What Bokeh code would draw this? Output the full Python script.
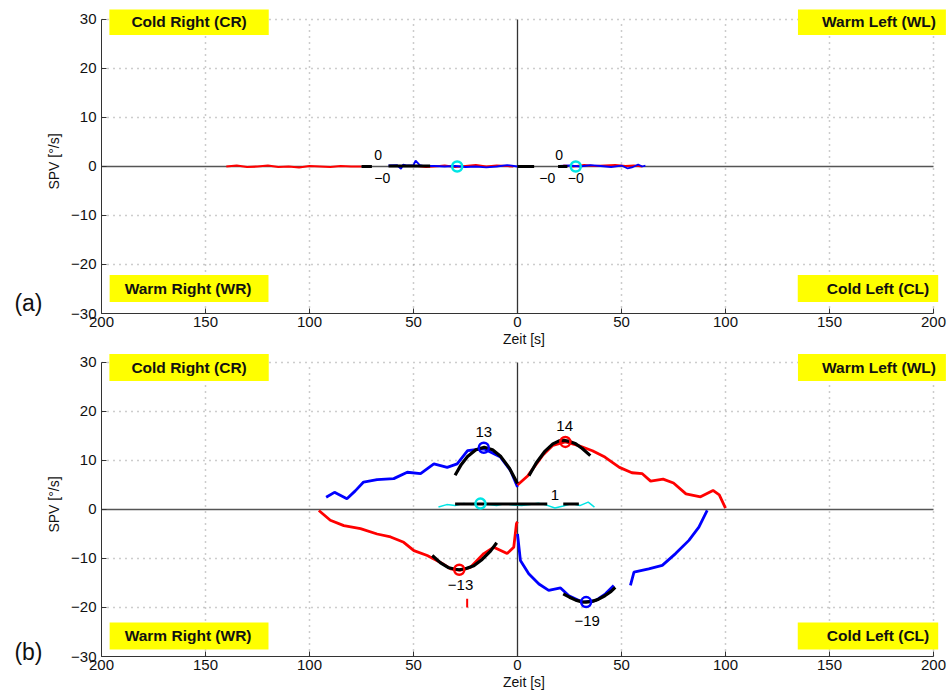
from bokeh.plotting import figure
from bokeh.layouts import column
from bokeh.models import (Range1d, FixedTicker, CustomJSTickFormatter, Label, LinearAxis)
from bokeh.core.properties import value
from bokeh.embed import file_html
from bokeh.resources import INLINE

FONT = "Liberation Sans"

# ---------------- axis ticks ----------------
x_ticks = [-200, -150, -100, -50, 0, 50, 100, 150, 200]
y_ticks = [-30, -20, -10, 0, 10, 20, 30]
x_label = "Zeit [s]"
y_label = "SPV [°/s]"

# ---------------- panel (a) data ----------------
a_red_left_x = [-140, -135, -130, -125, -120, -115, -110, -105, -100, -95, -90, -85, -80, -75]
a_red_left_y = [0.0, 0.2, -0.1, 0.0, 0.2, -0.1, 0.0, -0.2, 0.1, 0.0, -0.1, 0.1, 0.0, 0.0]
a_blue_left_x = [-62, -58, -56, -55, -53, -50, -49, -47, -45, -40, -35, -30, -25, -20, -15, -10, -5, 0]
a_blue_left_y = [0.2, 0.3, -0.5, 0.4, 0.2, 0.3, 1.2, 0.3, 0.1, 0.1, 0.0, 0.1, -0.1, 0.0, -0.2, 0.0, 0.3, 0.0]
a_red_mid_x = [-48, -44, -40, -35, -30, -25, -20, -15, -10, -5, -2]
a_red_mid_y = [0.1, -0.1, 0.0, 0.2, -0.1, 0.1, 0.3, 0.0, 0.2, 0.1, 0.0]
a_blue_right_x = [20, 25, 30, 35, 40, 45, 50, 53, 55, 58, 60, 61.5]
a_blue_right_y = [0.1, 0.2, 0.0, 0.3, 0.1, -0.1, 0.2, -0.4, -0.2, 0.4, 0.0, 0.2]
a_red_right_x = [22, 27, 32, 37, 42, 47, 52, 56, 60]
a_red_right_y = [0.2, 0.0, 0.3, 0.1, 0.2, 0.3, 0.1, 0.2, 0.0]
a_fit_x = [[-75, -70], [-62, -42], [0, 8], [19.5, 24]]
a_fit_y = [[0.0, 0.0], [0.1, 0.1], [0.0, 0.0], [0.0, 0.0]]
a_cyan_x = [-29, 28]
a_cyan_y = [0.0, 0.0]
a_text_x = [-67, -65, 20, 14.3, 28]
a_text_y = [2.4, -2.4, 2.4, -2.4, -2.4]
a_text = ["0", "\u22120", "0", "\u22120", "\u22120"]

# ---------------- panel (b) data ----------------
b_blue_ul_x = [-92, -88, -82, -78, -74, -67.5, -59.5, -53, -46.6, -40.2, -33.8, -29, -24, -16.2, -8.2, -3.4, 0]
b_blue_ul_y = [2.5, 3.5, 2.2, 3.8, 5.6, 6.1, 6.3, 7.6, 7.3, 9.3, 8.6, 9.3, 12.0, 12.4, 10.7, 8.0, 4.6]
b_red_ur_x = [0, 5, 12, 17, 23, 29, 36, 42, 49, 55, 60, 64, 70, 75, 81, 88, 94, 97, 100]
b_red_ur_y = [5.0, 6.9, 11.0, 13.1, 13.8, 13.1, 12.0, 10.7, 8.6, 7.5, 7.3, 5.8, 6.2, 5.4, 3.2, 2.6, 3.9, 3.0, 0.3]
b_red_ll_x = [-95.5, -90, -83.5, -75.5, -67.5, -61, -54.7, -49.8, -43.4, -37, -32.2, -27.4, -22.6, -16.2, -11.4, -5, -1.8, -0.5, 0]
b_red_ll_y = [-0.2, -2.2, -3.3, -3.9, -5.0, -5.6, -6.7, -8.4, -9.4, -10.8, -12.1, -12.4, -11.8, -9.0, -7.7, -9.0, -7.7, -2.9, -2.5]
b_blue_lr1_x = [0, 1.4, 5.4, 10.3, 15, 20.7, 24.7, 31.1, 37.5, 42.3, 46.3]
b_blue_lr1_y = [-5.0, -10.4, -13.1, -15.2, -16.5, -16.0, -17.6, -18.9, -18.6, -17.2, -15.5]
b_blue_lr2_x = [54.3, 56, 63.1, 69.6, 76, 82.4, 87.2, 91.2]
b_blue_lr2_y = [-15.5, -12.8, -12.1, -11.4, -9.0, -6.3, -3.6, -0.2]
b_cyan_x = [-38, -34, -30, -26, -22, -18, -14, -10, -6, -2, 2, 6, 10, 14, 18, 22, 26, 30, 34, 37]
b_cyan_y = [0.5, 1.0, 0.8, 1.2, 1.0, 1.2, 1.0, 0.8, 1.2, 0.9, 0.8, 1.0, 1.3, 0.9, 0.3, 0.7, 1.2, 0.8, 1.5, 0.5]

b_fit_ul_x = [-30, -27, -24, -20, -16, -12, -8, -4, 0]
b_fit_ul_y = [7.0, 9.2, 10.8, 12.2, 12.7, 12.2, 10.8, 8.5, 5.3]
b_fit_ur_x = [5.5, 9, 13, 17, 20, 22.3, 25, 28, 31, 35]
b_fit_ur_y = [6.9, 9.5, 11.8, 13.4, 14.0, 14.1, 13.9, 13.4, 12.5, 11.0]
b_fit_ll_x = [-41, -37, -33, -30, -28, -25, -21, -17, -13, -10]
b_fit_ll_y = [-9.4, -10.9, -11.9, -12.2, -12.3, -12.1, -11.5, -10.2, -8.5, -6.8]
b_fit_lr_x = [22, 25, 28, 31, 33, 36, 39, 42, 45, 47]
b_fit_lr_y = [-17.2, -17.9, -18.5, -18.85, -18.9, -18.75, -18.3, -17.6, -16.7, -15.9]
b_fit_c_x = [[-30, 14.3], [22, 29.5]]
b_fit_c_y = [[1.1, 1.1], [1.1, 1.1]]

b_peak_x = [-16.2, 23, -28, 33, -17.8]
b_peak_y = [12.6, 13.8, -12.3, -18.9, 1.2]
b_peak_color = ["#0000FF", "#FF0000", "#FF0000", "#0000FF", "#00E5E5"]
b_text_x = [-16.2, 22.7, 18, -27.4, 33.5]
b_text_y = [15.8, 17.1, 2.9, -15.5, -22.7]
b_text = ["13", "14", "1", "\u221213", "\u221219"]
b_tick_x = [-24.2, -24.2]
b_tick_y = [-18.2, -20.0]

# yellow corner boxes: text, box-centre x, (pad_left, pad_right)
box_text = ["Cold Right (CR)", "Warm Left (WL)", "Warm Right (WR)", "Cold Left (CL)"]
box_x = [-157.9, 170.4, -157.9, 168.5]
box_pad = [(22, 22), (24, 10), (15, 17), (29, 9)]

X0, X1 = x_ticks[0], x_ticks[-1]
Y0, Y1 = y_ticks[0], y_ticks[-1]


def make_fig(border_top, border_bottom, tag, tag_y):
    # frame is a little larger than the axes box so that the corner boxes fit
    p = figure(frame_width=845, frame_height=304, output_backend="svg",
               toolbar_location=None, x_range=Range1d(X0, X1 + 6.25),
               y_range=Range1d(Y0, Y1 + 2.04),
               min_border_left=101, min_border_right=3, min_border_top=border_top,
               min_border_bottom=border_bottom, background_fill_color="white",
               border_fill_color="white")
    p.outline_line_color = None
    p.xgrid.visible = False
    p.ygrid.visible = False
    for ax in (p.xaxis[0], p.yaxis[0]):
        ax.major_label_text_font = FONT
        ax.major_label_text_font_size = "15px"
        ax.major_label_text_color = "#111111"
        ax.axis_label_text_font = FONT
        ax.axis_label_text_font_style = "normal"
        ax.axis_label_text_font_size = "14px"
        ax.axis_label_text_color = "#111111"
        ax.axis_line_color = "#333333"
        ax.major_tick_line_color = "#333333"
        ax.major_tick_in = 5
        ax.major_tick_out = 0
        ax.minor_tick_line_color = None
    p.xaxis.bounds = (X0, X1)
    p.yaxis.bounds = (Y0, Y1)
    p.xaxis.ticker = FixedTicker(ticks=x_ticks)
    p.yaxis.ticker = FixedTicker(ticks=y_ticks)
    p.xaxis.formatter = CustomJSTickFormatter(code="return String(Math.abs(tick));")
    p.yaxis.formatter = CustomJSTickFormatter(
        code="return tick < 0 ? '\u2212' + String(Math.abs(tick)) : String(tick);")
    p.xaxis.axis_label = x_label
    p.yaxis.axis_label = y_label
    p.xaxis.major_label_standoff = 3
    p.xaxis.axis_label_standoff = 1
    p.yaxis.major_label_standoff = 5
    p.yaxis.axis_label_standoff = 6

    # panel tag "(a)" / "(b)" as the single label of an extra, line-less left axis
    tag_axis = LinearAxis(ticker=FixedTicker(ticks=[tag_y]),
                          formatter=CustomJSTickFormatter(code="return '%s';" % tag),
                          axis_line_color=None, major_tick_line_color=None,
                          minor_tick_line_color=None, major_label_standoff=-5,
                          major_label_text_font=FONT, major_label_text_font_size="23px",
                          major_label_text_color="#111111")
    p.add_layout(tag_axis, "left")

    # dotted grid limited to the axes box
    gx = [t for t in x_ticks if t not in (0, X0)]
    p.segment(x0=gx, y0=[Y0] * len(gx), x1=gx, y1=[Y1] * len(gx),
              line_color="#9a9a9a", line_dash="1 5", line_width=1.5)
    gy = [t for t in y_ticks if t not in (0, Y0)]
    p.segment(x0=[X0] * len(gy), y0=gy, x1=[X1] * len(gy), y1=gy,
              line_color="#9a9a9a", line_dash="1 5", line_width=1.5)
    # zero lines
    p.segment(x0=[X0], y0=[0], x1=[X1], y1=[0], line_color="#555555", line_width=1.3)
    p.segment(x0=[0], y0=[Y0], x1=[0], y1=[Y1], line_color="#333333", line_width=1.3)
    return p


def add_boxes(p, y_top, y_bot):
    ys = [y_top, y_top, y_bot, y_bot]
    for t, x, y, (pl, pr) in zip(box_text, box_x, ys, box_pad):
        p.add_layout(Label(x=x, y=y, text=t, text_font=FONT, text_font_size="15.5px",
                           text_font_style="bold", text_color="#111111",
                           text_align="center", text_baseline="middle",
                           background_fill_color="#FFFF00",
                           padding=dict(left=pl, right=pr, top=5, bottom=5)))


# ---------------- panel (a) ----------------
pa = make_fig(9, 39, "(a)", -27.8)
pa.line(a_red_left_x, a_red_left_y, color="#FF0000", line_width=2.2)
pa.line(a_red_mid_x, a_red_mid_y, color="#FF0000", line_width=2.2)
pa.line(a_red_right_x, a_red_right_y, color="#FF0000", line_width=2.2)
pa.line(a_blue_left_x, a_blue_left_y, color="#0000FF", line_width=1.8)
pa.line(a_blue_right_x, a_blue_right_y, color="#0000FF", line_width=1.8)
pa.multi_line(a_fit_x, a_fit_y, color="black", line_width=3)
pa.scatter(a_cyan_x, a_cyan_y, size=10, marker="circle", fill_color=None,
           line_color="#00E5E5", line_width=2.5)
pa.text(a_text_x, a_text_y, text=a_text, text_font=value(FONT), text_font_size=value("14px"),
        text_align="center", text_baseline="middle", text_color="black")
add_boxes(pa, 29.6, -24.9)

# ---------------- panel (b) ----------------
pb = make_fig(0, 41, "(b)", -29.0)
pb.line(b_cyan_x, b_cyan_y, color="#00E5E5", line_width=1.5)
pb.line(b_blue_ul_x, b_blue_ul_y, color="#0000FF", line_width=2.8)
pb.line(b_red_ur_x, b_red_ur_y, color="#FF0000", line_width=2.8)
pb.line(b_red_ll_x, b_red_ll_y, color="#FF0000", line_width=2.8)
pb.line(b_blue_lr1_x, b_blue_lr1_y, color="#0000FF", line_width=2.8)
pb.line(b_blue_lr2_x, b_blue_lr2_y, color="#0000FF", line_width=2.8)
pb.line(b_tick_x, b_tick_y, color="#FF0000", line_width=2)
for fx, fy in ((b_fit_ul_x, b_fit_ul_y), (b_fit_ur_x, b_fit_ur_y),
               (b_fit_ll_x, b_fit_ll_y), (b_fit_lr_x, b_fit_lr_y)):
    pb.line(fx, fy, color="black", line_width=3.2)
pb.multi_line(b_fit_c_x, b_fit_c_y, color="black", line_width=3)
pb.scatter(b_peak_x, b_peak_y, size=10, marker="circle", fill_color=None,
           line_color=b_peak_color, line_width=2.5)
pb.text(b_text_x, b_text_y, text=b_text, text_font=value(FONT), text_font_size=value("15px"),
        text_align="center", text_baseline="middle", text_color="black")
add_boxes(pb, 29.0, -25.8)

layout = column(pa, pb, spacing=0)
open("out.html", "w").write(file_html(layout, INLINE))
